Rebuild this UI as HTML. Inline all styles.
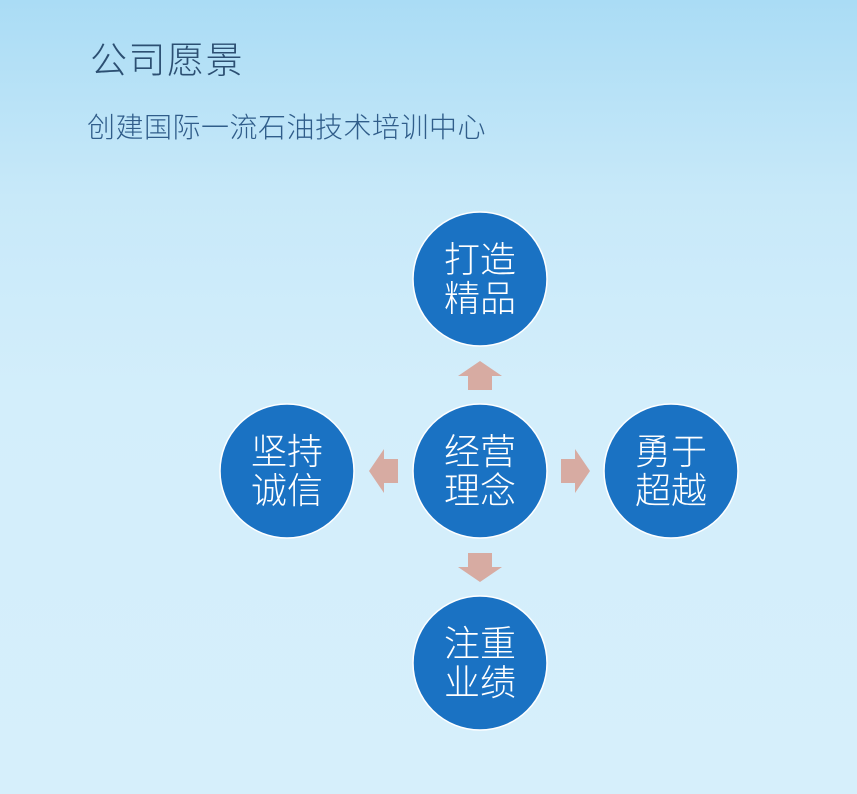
<!DOCTYPE html>
<html><head><meta charset="utf-8"><style>
html,body{margin:0;padding:0}
body{width:857px;height:794px;overflow:hidden;background:linear-gradient(180deg,#aadcf5 0%,#c8e9f9 25%,#d3eefb 50%,#d6effb 100%);font-family:"Liberation Sans","Noto Sans CJK SC",sans-serif}
</style></head><body>
<svg width="857" height="794" viewBox="0 0 857 794" xmlns="http://www.w3.org/2000/svg" style="position:absolute;left:0;top:0">
<g font-family="Liberation Sans, Noto Sans CJK SC, sans-serif" font-weight="300">
<text x="90" y="73" font-size="37" letter-spacing="1.5" fill="#2c4f72">公司愿景</text>
<text x="87" y="137" font-size="28" letter-spacing="0.5" fill="#305d8a">创建国际一流石油技术培训中心</text>
</g>
<g fill="#d7aba2">
<polygon points="480,361 502,376 492,376 492,390 468,390 468,376 458,376"/>
<polygon points="480,582 502,567 492,567 492,553 468,553 468,567 458,567"/>
<polygon points="369,471 384,449 384,459 398,459 398,483 384,483 384,493"/>
<polygon points="590,471 575,449 575,459 561,459 561,483 575,483 575,493"/>
</g>
<g fill="#1a72c3" stroke="#ffffff" stroke-width="1.5">
<circle cx="480" cy="279" r="67"/>
<circle cx="480" cy="471" r="67"/>
<circle cx="287" cy="471" r="67"/>
<circle cx="671" cy="471" r="67"/>
<circle cx="480" cy="663" r="67"/>
</g>
<g fill="#ffffff" font-size="36" text-anchor="middle" font-family="Liberation Sans, Noto Sans CJK SC, sans-serif" font-weight="300">
<text x="480" y="272">打造</text><text x="480" y="311">精品</text>
<text x="480" y="464">经营</text><text x="480" y="503">理念</text>
<text x="287" y="464">坚持</text><text x="287" y="503">诚信</text>
<text x="671" y="464">勇于</text><text x="671" y="503">超越</text>
<text x="480" y="656">注重</text><text x="480" y="695">业绩</text>
</g>
</svg>
</body></html>
